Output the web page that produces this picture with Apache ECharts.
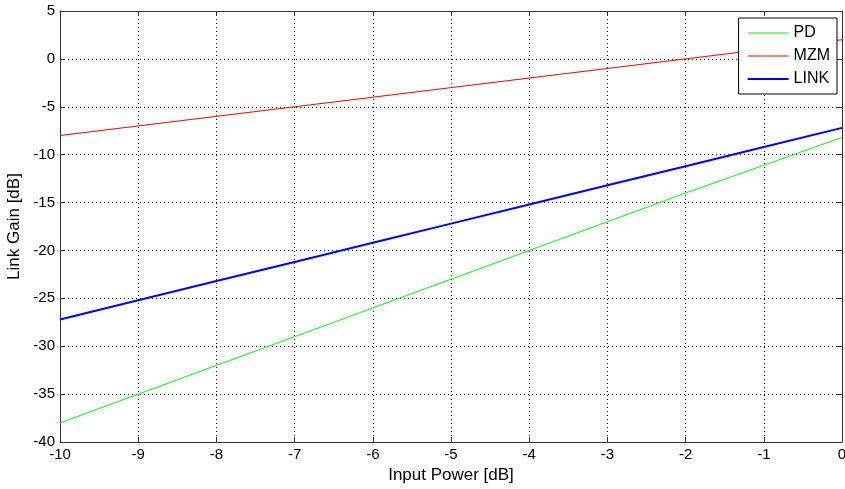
<!DOCTYPE html>
<html>
<head>
<meta charset="utf-8">
<script src="https://cdn.jsdelivr.net/npm/echarts@6/dist/echarts.min.js"></script>
<style>html,body{margin:0;padding:0;background:#fff}#c{width:845px;height:489px}</style>
</head>
<body>
<div id="c"></div>
<script>
const xValues = [-10, -9, -8, -7, -6, -5, -4, -3, -2, -1, 0];
const pdValues = [-38, -35, -32, -29, -26, -23, -20, -17, -14, -11.1, -8.2];
const mzmValues = [-8, -7, -6, -5, -4, -3, -2, -1, 0, 1, 2];
const linkValues = [-27.2, -25.2, -23.2, -21.2, -19.2, -17.2, -15.2, -13.2, -11.2, -9.2, -7.2];
const seriesNames = ['PD', 'MZM', 'LINK'];

const font = 'Liberation Sans, Arial, sans-serif';
const pair = (ys) => xValues.map((x, i) => [x, ys[i]]);
const chart = echarts.init(document.getElementById('c'));
const axCommon = {
  axisLine: { show: true, onZero: false, lineStyle: { color: '#333', width: 1 } },
  axisTick: { show: true, inside: true, length: 5, lineStyle: { color: '#333' } },
};
const legendWidths = [1, 1, 2];
chart.setOption({
  animation: false,
  backgroundColor: '#fff',
  grid: { left: 60, right: 3, top: 11, bottom: 47, containLabel: false, outerBoundsMode: 'none' },
  legend: {
    orient: 'vertical', right: 8, top: 18,
    data: seriesNames.map((n, i) => ({ name: n, lineStyle: { width: legendWidths[i] } })),
    itemStyle: { color: 'rgba(0,0,0,0)', borderColor: 'rgba(0,0,0,0)', borderWidth: 0, opacity: 0 },
    backgroundColor: '#fff', borderColor: '#000', borderWidth: 1,
    padding: [7, 7, 7, 8], itemWidth: 41, itemHeight: 14, itemGap: 7,
    textStyle: { fontFamily: font, fontSize: 16, color: '#000', lineHeight: 14 }
  },
  xAxis: [{
    type: 'value', min: -10, max: 0, interval: 1, position: 'bottom',
    ...axCommon,
    axisLabel: { fontFamily: font, fontSize: 15, color: '#000', margin: 5 },
    splitLine: { show: true, lineStyle: { color: '#000', type: [1, 3], width: 1 } },
    name: 'Input Power [dB]', nameLocation: 'middle', nameGap: 23,
    nameTextStyle: { fontFamily: font, fontSize: 17, color: '#000' }
  }, {
    type: 'value', min: -10, max: 0, interval: 1, position: 'top',
    ...axCommon, axisLabel: { show: false }, splitLine: { show: false }
  }],
  yAxis: [{
    type: 'value', min: -40, max: 5, interval: 5, position: 'left',
    ...axCommon,
    axisLabel: { fontFamily: font, fontSize: 15, color: '#000', margin: 5 },
    splitLine: { show: true, lineStyle: { color: '#000', type: [1, 3], width: 1 } },
    name: 'Link Gain [dB]', nameLocation: 'middle', nameGap: 35, nameRotate: 90,
    nameTextStyle: { fontFamily: font, fontSize: 17, color: '#000' }
  }, {
    type: 'value', min: -40, max: 5, interval: 5, position: 'right',
    ...axCommon, axisLabel: { show: false }, splitLine: { show: false }
  }],
  series: [
    { name: 'PD', type: 'line', data: pair(pdValues), symbol: 'none', lineStyle: { color: '#00ff00', width: 1 }, itemStyle: { color: '#00ff00' } },
    { name: 'MZM', type: 'line', data: pair(mzmValues), symbol: 'none', lineStyle: { color: '#ff0000', width: 1 }, itemStyle: { color: '#ff0000' } },
    { name: 'LINK', type: 'line', data: pair(linkValues), symbol: 'none', lineStyle: { color: '#0000ff', width: 2 }, itemStyle: { color: '#0000ff' } }
  ]
});
</script>
</body>
</html>
